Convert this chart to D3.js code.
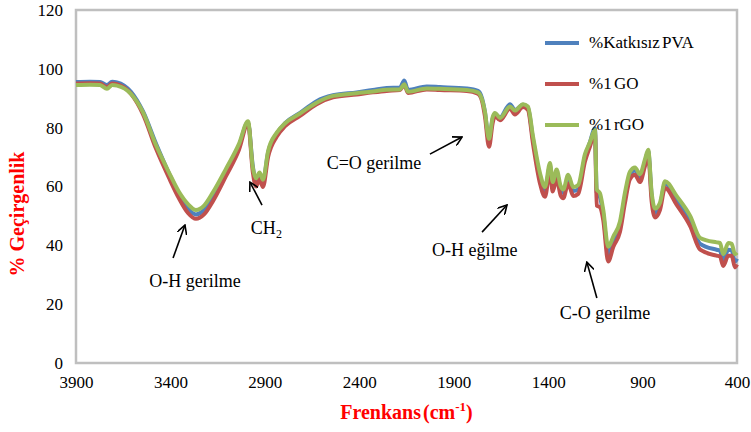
<!DOCTYPE html>
<html>
<head>
<meta charset="utf-8">
<script src="https://cdn.jsdelivr.net/npm/d3@7"></script>
<style>
  body { margin: 0; background: #fff; }
</style>
</head>
<body>
<div id="chart"></div>
<script>
// wavenumbers (cm-1)
var wavenumbers = [3900, 3826, 3773, 3736, 3709, 3683, 3609, 3545, 3476, 3408, 3355, 3307, 3265, 3222, 3175, 3106, 3037, 2989,
  2964, 2947, 2928, 2910, 2883, 2837, 2793, 2714, 2626, 2539, 2414, 2328, 2255, 2185, 2162, 2142, 2043, 1973, 1831, 1772,
  1750, 1735, 1713, 1694, 1682, 1655, 1602, 1576, 1533, 1507, 1480, 1443, 1417, 1390, 1376, 1355, 1334, 1320, 1294, 1267,
  1241, 1205, 1179, 1152, 1143, 1126, 1108, 1082, 1055, 1020, 993, 967, 940, 914, 887, 870, 852, 834, 808, 781, 720, 648,
  595, 508, 490, 473, 446, 428, 411, 400];

// %Katkısız PVA
var pva = [95.5, 95.6, 95.5, 94.5, 95.6, 95.4, 92.2, 85.5, 74.5, 64.5, 57.5, 52.5, 50.5, 52.0, 56.5, 64.8, 73.8, 81.8,
  67.0, 61.5, 64.0, 61.8, 71.5, 78.0, 81.5, 85.0, 89.0, 91.0, 92.0, 92.8, 93.5, 93.6, 96.0, 92.8, 94.0, 93.8, 93.3, 92.5,
  90.0, 85.5, 75.5, 83.0, 84.8, 83.5, 88.0, 86.0, 87.8, 86.8, 76.0, 63.0, 58.0, 67.0, 60.0, 64.5, 58.8, 57.8, 62.8, 58.5,
  59.0, 70.0, 75.0, 79.8, 58.0, 56.5, 50.5, 37.0, 41.5, 46.5, 56.5, 64.0, 65.5, 63.0, 68.5, 72.0, 57.0, 51.0, 53.5, 61.0,
  55.5, 48.0, 40.5, 38.5, 38.2, 34.8, 38.5, 38.3, 34.5, 35.5];

// %1 GO
var go = [95.0, 95.1, 95.0, 93.8, 95.0, 94.8, 91.5, 84.5, 72.8, 63.0, 56.0, 51.0, 49.0, 50.5, 55.0, 63.5, 72.5, 81.5,
  65.0, 60.0, 62.5, 59.8, 70.0, 77.0, 80.5, 84.0, 88.0, 90.3, 91.3, 92.0, 92.5, 92.8, 94.5, 91.8, 93.0, 92.8, 92.5, 91.5,
  89.0, 84.0, 73.5, 81.5, 84.0, 82.5, 86.5, 84.5, 87.0, 86.0, 74.5, 61.0, 56.5, 65.0, 58.3, 62.5, 57.0, 56.0, 61.0, 56.8,
  57.5, 68.5, 73.5, 78.5, 53.5, 53.0, 48.5, 34.5, 39.5, 44.5, 54.5, 62.5, 64.0, 61.5, 67.0, 70.5, 55.0, 49.5, 52.0, 59.5,
  53.8, 46.5, 38.5, 36.5, 36.2, 33.0, 36.5, 36.5, 32.5, 33.5];

// %1 rGO
var rgo = [94.5, 94.6, 94.5, 93.2, 94.5, 94.3, 91.5, 85.2, 74.0, 64.8, 58.2, 54.0, 52.0, 53.5, 58.0, 66.0, 74.5, 82.2,
  66.5, 62.8, 64.8, 62.3, 72.0, 78.3, 81.5, 84.8, 88.5, 90.8, 91.7, 92.3, 92.9, 93.0, 94.8, 92.2, 93.3, 93.2, 92.8, 92.0,
  89.5, 85.5, 76.2, 83.5, 85.0, 83.3, 87.2, 85.8, 88.0, 87.2, 77.0, 64.5, 59.8, 68.0, 61.5, 65.8, 60.2, 59.0, 64.0, 59.8,
  60.5, 71.0, 75.0, 79.2, 59.0, 57.8, 52.0, 39.5, 43.0, 48.0, 58.0, 65.0, 66.5, 64.2, 69.3, 72.5, 58.0, 52.5, 54.5, 61.8,
  56.8, 50.0, 42.5, 41.0, 40.8, 37.0, 40.8, 40.5, 37.0, 37.5];

var seriesNames = ['%Katkısız PVA', '%1 GO', '%1 rGO'];
var seriesColors = ['#4f81bd', '#c0504d', '#9bbb59'];
var xTicks = [3900, 3400, 2900, 2400, 1900, 1400, 900, 400];
var yTicks = [0, 20, 40, 60, 80, 100, 120];

// band labels: text at (tx, ty), arrow from (x1, y1) to (x2, y2), all in data units
var notes = [
  { label: 'O-H gerilme', tx: 3270, ty: 27.9, x1: 3386, y1: 35.7, x2: 3323, y2: 46.9 },
  { label: 'CH', sub: '2', tx: 2892, ty: 45.9, x1: 2915, y1: 53.7, x2: 2979, y2: 61.5 },
  { label: 'C=O gerilme', tx: 2322, ty: 68.0, x1: 2026, y1: 71.0, x2: 1856, y2: 76.8 },
  { label: 'O-H eğilme', tx: 1788, ty: 38.4, x1: 1750, y1: 44.5, x2: 1618, y2: 53.7 },
  { label: 'C-O gerilme', tx: 1099, ty: 17.0, x1: 1142, y1: 22.1, x2: 1195, y2: 34.3 }
];

var SERIF = '"Liberation Serif", "Times New Roman", serif';
var W = 751, H = 432;
var margin = { left: 76, right: 14, top: 10, bottom: 69 };

var svg = d3.select('#chart').append('svg')
  .attr('width', W)
  .attr('height', H)
  .style('font-family', SERIF);

var x = d3.scaleLinear().domain([3900, 400]).range([margin.left, W - margin.right]);
var y = d3.scaleLinear().domain([0, 120]).range([H - margin.bottom, margin.top]);

// arrow head
svg.append('defs').append('marker')
  .attr('id', 'arr')
  .attr('viewBox', '0 0 10 10')
  .attr('refX', 9).attr('refY', 5)
  .attr('markerWidth', 10).attr('markerHeight', 10)
  .attr('markerUnits', 'userSpaceOnUse')
  .attr('orient', 'auto')
  .append('path')
  .attr('d', 'M0,0 L9,5 L0,10')
  .attr('fill', 'none')
  .attr('stroke', '#000')
  .attr('stroke-width', 1.6);

// plot frame
svg.append('rect')
  .attr('x', x(3900)).attr('y', y(120))
  .attr('width', x(400) - x(3900))
  .attr('height', y(0) - y(120))
  .attr('fill', 'none')
  .attr('stroke', '#bfbfbf')
  .attr('stroke-width', 2.5);

// axes (labels only, frame is drawn above)
var xAxis = svg.append('g')
  .attr('transform', 'translate(0,' + y(0) + ')')
  .call(d3.axisBottom(x).tickValues(xTicks).tickSize(0).tickPadding(13).tickFormat(d3.format('d')));
var yAxis = svg.append('g')
  .attr('transform', 'translate(' + x(3900) + ',0)')
  .call(d3.axisLeft(y).tickValues(yTicks).tickSize(0).tickPadding(13));
[xAxis, yAxis].forEach(function(a) {
  a.select('.domain').remove();
  a.selectAll('text')
    .style('font-family', SERIF)
    .style('font-size', '17px')
    .attr('fill', '#000');
});

// spectra
var allSeries = [pva, go, rgo];
var line = d3.line()
  .x(function(d, i) { return x(wavenumbers[i]); })
  .y(function(d) { return y(d); })
  .curve(d3.curveMonotoneX);

for (var s = 0; s < allSeries.length; s++) {
  svg.append('path')
    .datum(allSeries[s])
    .attr('d', line)
    .attr('fill', 'none')
    .attr('stroke', seriesColors[s])
    .attr('stroke-width', 4)
    .attr('stroke-linejoin', 'round');
}

// legend
var lg = svg.append('g');
for (var i = 0; i < seriesNames.length; i++) {
  var ly = 43 + i * 41;
  lg.append('line')
    .attr('x1', 545).attr('x2', 579)
    .attr('y1', ly).attr('y2', ly)
    .attr('stroke', seriesColors[i])
    .attr('stroke-width', 4);
  lg.append('text')
    .attr('x', 589).attr('y', ly + 5)
    .style('font-family', SERIF)
    .style('font-size', '17px')
    .style('word-spacing', '-2px')
    .text(seriesNames[i]);
}

// band annotations
notes.forEach(function(n) {
  svg.append('line')
    .attr('x1', x(n.x1)).attr('y1', y(n.y1))
    .attr('x2', x(n.x2)).attr('y2', y(n.y2))
    .attr('stroke', '#000')
    .attr('stroke-width', 1.6)
    .attr('marker-end', 'url(#arr)');
  var t = svg.append('text')
    .attr('x', x(n.tx)).attr('y', y(n.ty) + 6)
    .attr('text-anchor', 'middle')
    .style('font-family', SERIF)
    .style('font-size', '18px')
    .text(n.label);
  if (n.sub) {
    t.append('tspan').style('font-size', '12px').attr('dy', 4).text(n.sub);
  }
});

// axis titles
var xt = svg.append('text')
  .attr('x', (x(3900) + x(400)) / 2)
  .attr('y', 419)
  .attr('text-anchor', 'middle')
  .style('font-family', SERIF)
  .style('font-size', '20px')
  .style('font-weight', 'bold')
  .style('word-spacing', '-3px')
  .attr('fill', '#ff0000')
  .text('Frenkans (cm');
xt.append('tspan').style('font-size', '13px').attr('dy', -8).text('-1');
xt.append('tspan').attr('dy', 8).text(')');

svg.append('text')
  .attr('transform', 'translate(24,214) rotate(-90)')
  .attr('text-anchor', 'middle')
  .style('font-family', SERIF)
  .style('font-size', '20px')
  .style('font-weight', 'bold')
  .attr('fill', '#ff0000')
  .text('% Geçirgenlik');
</script>
</body>
</html>
